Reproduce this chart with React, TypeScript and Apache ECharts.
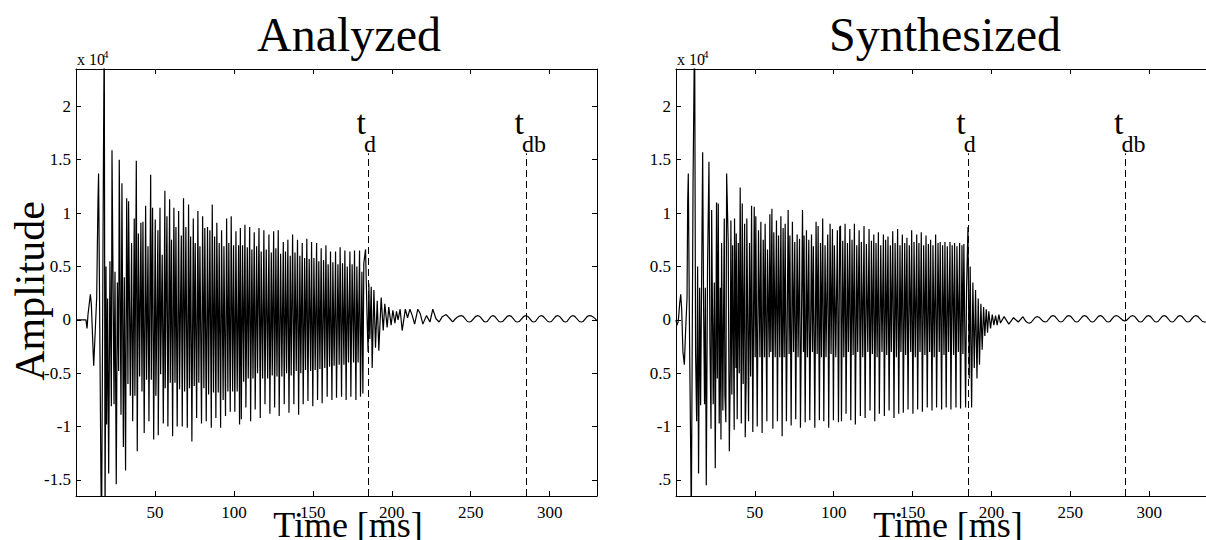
import React, { useEffect, useRef } from "react";
import * as echarts from "echarts";

type Pt = [number, number];

// ---------- axes / labels ----------
const xTicks = [50, 100, 150, 200, 250, 300];
const yTicks = [-1.5, -1, -0.5, 0, 0.5, 1, 1.5, 2];
const leftYLabels = ["-1.5", "-1", "-0.5", "0", "0.5", "1", "1.5", "2"];
const rightYLabels = [".5", "-1", "0.5", "0", "0.5", "1", "1.5", "2"];
const analyzedXRange: [number, number] = [0, 330];
const synthXRange: [number, number] = [0, 336];
const yRange: [number, number] = [-1.65, 2.35];
const panelTitles = ["Analyzed", "Synthesized"];
const markerTimes = [185, 285];
const markerSubs = ["d", "db"];
const markerTop = 1.56;

// ---------- Analyzed waveform (amplitude in units of 10^4) ----------
const analyzedOnset: Pt[] = [
  [0, 0], [6.3, 0], [7.0, -0.08], [7.6, 0.05], [9.1, 0.24], [9.7, 0.15], [11.2, -0.43], [12.2, -0.1],
  [13.1, 0.21], [13.9, 1.1], [14.3, 1.37], [15.2, -0.34], [15.8, -1.48], [16.2, -2.0], [17.3, 1.27],
  [17.9, 2.8], [18.4, -1.9], [19.0, 0.5], [19.4, -0.98], [20.0, 0.2], [20.7, -1.44], [21.5, 0.55],
  [22.4, -0.81], [22.8, 1.59], [24.1, -0.79], [24.7, 0.45], [25.5, -1.54], [26.2, 0.35], [27.0, -0.48],
  [27.4, 1.5], [28.5, -0.89], [29.1, 1.28], [30.0, -1.19], [30.6, 0.4], [31.4, -1.41], [32.1, 1.14],
  [32.9, -0.6], [33.3, 1.11], [34.4, -0.71], [35.2, 0.72], [35.9, -0.95], [36.9, 0.95], [37.3, -0.71],
  [38.2, 1.49], [38.8, -1.23], [39.5, 0.81], [40.3, -0.53], [41.1, 0.91], [41.8, -0.67], [42.4, 0.92],
  [43.2, -1.06], [44.1, 1.07], [44.7, -0.56], [45.6, 0.69], [46.2, -0.95], [47.3, 1.36], [47.7, -0.56],
  [48.5, 1.05], [49.2, -1.12], [50.2, 0.94], [50.6, -0.71], [51.9, 0.84], [52.1, -1.08], [53.2, 1.05],
  [53.6, -0.51], [54.6, 0.61], [55.3, -0.97], [56.3, 1.21], [56.5, -0.64], [57.6, 0.97], [58.2, -1.0],
  [59.3, 1.13], [59.7, -0.59], [60.5, 0.75], [61.2, -1.09], [62.0, 1.05], [62.7, -0.59], [63.3, 0.87],
  [64.1, -1.0], [65.0, 1.02], [65.6, -0.65], [66.7, 0.79], [67.3, -1.0], [68.1, 1.14], [68.8, -0.67],
  [69.6, 0.87], [70.5, -1.01], [71.3, 1.08], [71.9, -0.64], [72.6, 0.78], [73.4, -1.14], [74.3, 0.95],
  [74.9, -0.62], [75.5, 0.72], [76.4, -0.92], [77.2, 1.02], [77.8, -0.59], [78.5, 0.69], [79.5, -0.97],
  [80.2, 0.97], [81.0, -0.64], [81.6, 0.86], [82.5, -0.95], [83.3, 0.87], [84.0, -0.7], [84.8, 0.84],
  [85.7, -1.01], [86.3, 1.08], [87.1, -0.68], [87.8, 0.78], [88.6, -0.92], [89.2, 0.91], [90.1, -0.68],
  [90.7, 0.72], [91.6, -1.01], [92.2, 0.84], [93.2, -0.75], [93.7, 0.69], [94.7, -0.9], [95.4, 0.95],
  [96.2, -0.67], [96.8, 0.72], [97.7, -0.86], [98.3, 0.97], [99.2, -0.67], [99.8, 0.7], [100.6, -0.86],
  [101.3, 0.83], [102.1, -0.67], [103.0, 0.7], [103.6, -0.98],
];
const analyzedBody: Pt[] = [
  [104.1, 0.86], [104.7, -0.93], [105.5, 0.7], [106.2, -0.58], [107.0, 0.89], [107.6, -0.82], [108.5, 0.68],
  [109.1, -0.55], [110.0, 0.87], [110.6, -0.95], [111.4, 0.66], [112.1, -0.55], [112.9, 0.82], [113.5, -0.84],
  [114.4, 0.69], [115.0, -0.5], [115.9, 0.86], [116.7, -0.92], [117.3, 0.64], [118.2, -0.55], [119.0, 0.84],
  [119.7, -0.79], [120.5, 0.66], [121.4, -0.55], [122.2, 0.8], [122.8, -0.88], [123.7, 0.63], [124.3, -0.52],
  [125.2, 0.83], [125.8, -0.82], [126.6, 0.67], [127.3, -0.53], [128.1, 0.84], [128.7, -0.9], [129.6, 0.62],
  [130.4, -0.53], [131.3, 0.73], [131.9, -0.79], [132.7, 0.64], [133.4, -0.5], [134.2, 0.75], [134.9, -0.87],
  [135.7, 0.6], [136.3, -0.52], [137.2, 0.8], [138.0, -0.79], [138.7, 0.63], [139.5, -0.48], [140.3, 0.75],
  [141.0, -0.89], [141.8, 0.6], [142.4, -0.5], [143.3, 0.72], [143.9, -0.79], [144.8, 0.58], [145.4, -0.47],
  [146.2, 0.76], [146.9, -0.76], [147.7, 0.57], [148.6, -0.48], [149.2, 0.73], [150.0, -0.81], [150.7, 0.58],
  [151.5, -0.47], [152.4, 0.72], [153.0, -0.75], [153.8, 0.55], [154.5, -0.46], [155.3, 0.67], [155.9, -0.78],
  [156.8, 0.56], [157.6, -0.45], [158.3, 0.7], [159.1, -0.72], [159.7, 0.52], [160.6, -0.44], [161.2, 0.64],
  [162.1, -0.75], [162.7, 0.54], [163.5, -0.43], [164.4, 0.64], [165.0, -0.73], [165.9, 0.52], [166.7, -0.42],
  [167.3, 0.68], [168.2, -0.72], [168.8, 0.53], [169.7, -0.42], [170.3, 0.65], [171.1, -0.75], [171.8, 0.5],
  [172.6, -0.4], [173.5, 0.64], [174.1, -0.72], [174.9, 0.52], [175.8, -0.4], [176.4, 0.65], [177.3, -0.75],
  [177.9, 0.5], [178.7, -0.4], [179.6, 0.65], [180.2, -0.72], [181.1, 0.45], [181.7, -0.69], [182.3, 0.53],
];
const analyzedDecay: Pt[] = [
  [183.4, 0.66], [184.4, 0.0], [185.0, -0.3], [185.5, 0.34], [186.1, -0.18], [187.0, 0.31], [187.6, -0.45],
  [188.7, 0.28], [189.7, -0.26], [190.8, 0.18], [191.8, -0.29], [193.3, 0.21], [194.6, -0.1], [195.6, 0.15],
  [197.1, -0.07], [198.1, 0.12], [199.6, -0.05], [200.7, 0.09], [202.0, -0.03], [203.0, 0.08], [204.0, 0.0],
  [205.3, 0.1], [206.6, -0.1], [208.6, 0.1], [210.0, 0.02], [211.5, 0.1], [213.0, 0.04], [214.5, -0.04],
  [216.5, 0.1], [218.0, 0.06], [219.7, -0.04], [222.0, 0.04], [224.2, -0.02], [226.0, 0.1], [228.0, 0.01],
  [230.0, -0.02], [232.0, 0.03], [234.5, 0.05], [238.7, -0.02],
];
const analyzedTail: Pt[] = [
  [238.7, -0.02], [244, 0.04], [249, -0.02], [254.5, 0.04], [259.5, -0.02], [264, 0.04], [269, -0.02],
  [274.5, 0.04], [279.5, -0.02], [285, 0.04], [290, -0.02], [294.6, 0.04], [300, -0.02], [305.1, 0.04],
  [310, -0.02], [314.6, 0.04], [320, -0.02], [325.2, 0.04], [330, -0.01],
];

// ---------- Synthesized waveform (amplitude in units of 10^4) ----------
const synthOnset: Pt[] = [
  [0, 0], [0.6, -0.05], [1.3, -0.02], [1.7, 0.03], [2.3, 0.15], [3.0, 0.24], [3.6, 0.1], [4.4, -0.3],
  [5.3, -0.42], [6.1, -0.1], [7.0, 0.21], [7.4, 1.1], [7.8, 1.37], [8.6, -0.2], [9.3, -1.2], [9.7, -1.9],
  [10.8, 1.27], [11.8, 2.8], [12.4, -0.3], [13.1, -0.95], [13.7, 0.5], [14.3, -1.44], [15.0, 0.3],
  [15.6, -0.8], [16.9, 1.57], [17.5, 0.1], [18.1, -0.79], [18.6, 0.3], [19.2, -1.55], [20.0, 0.5],
  [20.9, 1.48], [21.5, -0.2], [22.2, -1.02], [22.6, 1.03], [23.6, -0.79], [24.3, 0.35], [24.9, -1.39],
  [25.7, 1.1], [26.2, -0.55], [26.8, 1.09], [27.4, -0.97], [28.1, 0.3], [28.5, -1.12], [28.9, 0.72],
  [29.7, -0.85], [30.6, 0.95], [31.0, -0.7], [31.6, -0.96], [32.1, 1.37], [33.1, 0.72], [33.8, -1.23],
  [34.4, -0.48], [34.8, 0.93], [35.4, -0.7], [35.9, 0.7], [36.9, -1.03], [37.1, 0.95], [38.0, -0.45],
  [38.2, 0.81], [38.8, -0.93], [39.5, 0.72], [40.1, -0.5], [40.7, 1.24], [41.4, -0.97], [42.0, 1.09],
  [42.6, -0.6], [43.5, 0.9], [43.9, -1.1], [44.5, -0.55], [44.9, 0.95], [46.0, -0.95], [46.6, 0.72],
  [47.3, -0.53], [47.9, 1.07], [48.7, -1.05], [49.6, 1.06], [50.2, -0.35], [50.6, 0.97], [51.5, -1.0],
  [52.3, 0.84], [53.2, -0.35], [53.8, 0.92], [54.6, -1.06], [55.3, 0.75], [56.1, -0.35], [56.5, 0.9],
  [57.6, -0.95], [58.0, 0.66], [59.1, -0.35], [59.5, 0.99], [60.1, -0.3], [60.8, 1.04], [61.4, -1.02],
  [62.0, 0.82], [62.9, -0.35], [63.7, 0.93], [64.3, -0.95], [65.0, 0.79], [65.8, -0.35], [66.5, 0.97],
  [67.3, -1.09], [67.9, 0.86], [68.6, -0.35], [69.2, 0.9], [70.0, -0.95], [71.1, 1.03], [71.7, -0.32],
  [72.2, 0.79], [73.0, -0.99], [73.8, 0.92], [74.5, -0.3], [75.3, 0.73], [75.9, -0.93], [76.8, 0.8],
  [77.4, -0.35], [78.3, 0.76], [78.9, -1.01], [80.2, 1.03], [80.8, -0.3], [81.2, 0.79], [81.9, -0.96],
  [82.7, 0.84], [83.3, -0.35], [84.2, 0.75], [84.8, -0.94], [85.9, 0.8], [86.5, -0.3], [87.1, 0.69],
  [88.0, -1.01], [88.8, 0.92], [89.5, -0.32], [90.1, 0.88], [90.9, -0.94], [91.6, 0.72], [92.2, -0.35],
  [93.0, 0.95], [93.7, -0.95], [94.5, 0.7], [95.1, -0.35], [96.2, 0.8], [96.8, -1.01], [97.7, 0.9],
  [98.3, -0.32], [99.2, 0.85], [99.8, -0.94], [100.4, 0.7], [101.3, -0.35], [102.3, 0.84], [103.0, -0.96],
  [103.8, 0.87],
];
const synthBody: Pt[] = [
  [104.3, 0.88], [104.9, -0.95], [105.7, 0.74], [106.4, -0.35], [107.2, 0.9], [107.8, -0.88], [108.7, 0.72],
  [109.3, -0.3], [110.2, 0.85], [110.8, -0.94], [111.6, 0.75], [112.3, -0.33], [113.1, 0.9], [113.7, -0.98],
  [114.6, 0.7], [115.2, -0.3], [116.1, 0.84], [116.9, -0.9], [117.5, 0.73], [118.4, -0.35], [119.2, 0.88],
  [119.9, -0.92], [120.7, 0.71], [121.6, -0.3], [122.4, 0.85], [123.0, -0.85], [123.9, 0.74], [124.5, -0.32],
  [125.4, 0.8], [126.0, -0.95], [126.8, 0.72], [127.5, -0.35], [128.3, 0.82], [128.9, -0.88], [129.8, 0.7],
  [130.6, -0.3], [131.5, 0.8], [132.1, -0.9], [132.9, 0.75], [133.6, -0.33], [134.4, 0.78], [135.1, -0.85],
  [135.9, 0.7], [136.5, -0.3], [137.4, 0.83], [138.2, -0.92], [138.9, 0.72], [139.7, -0.35], [140.5, 0.85],
  [141.2, -0.88], [142.0, 0.7], [142.6, -0.3], [143.5, 0.8], [144.1, -0.87], [145.0, 0.72], [145.6, -0.33],
  [146.4, 0.77], [147.1, -0.84], [147.9, 0.7], [148.8, -0.3], [149.4, 0.84], [150.2, -0.88], [150.9, 0.73],
  [151.7, -0.35], [152.6, 0.8], [153.2, -0.84], [154.0, 0.72], [154.7, -0.3], [155.5, 0.82], [156.2, -0.86],
  [157.0, 0.7], [157.8, -0.33], [158.5, 0.79], [159.3, -0.82], [160.0, 0.71], [160.8, -0.3], [161.4, 0.75],
  [162.3, -0.85], [162.9, 0.7], [163.7, -0.35], [164.6, 0.8], [165.2, -0.82], [166.1, 0.72], [166.9, -0.3],
  [167.5, 0.73], [168.4, -0.84], [169.0, 0.7], [169.9, -0.33], [170.5, 0.73], [171.3, -0.82], [172.0, 0.69],
  [172.8, -0.3], [173.7, 0.73], [174.3, -0.84], [175.1, 0.7], [176.0, -0.33], [176.6, 0.72], [177.5, -0.82],
  [178.1, 0.69], [179.0, -0.3], [179.8, 0.72], [180.4, -0.83], [181.3, 0.7], [181.9, -0.32], [182.5, 0.71],
  [183.6, -0.82], [184.2, 0.3], [185.1, 0.87],
];
const synthDecay: Pt[] = [
  [185.9, -0.55], [186.5, 0.5], [187.4, -0.82], [188.2, 0.35], [189.1, -0.45], [189.9, 0.28], [190.8, -0.55],
  [191.6, 0.2], [192.4, -0.42], [193.3, 0.15], [194.1, -0.28], [195.0, 0.12], [195.8, -0.15], [196.7, 0.1],
  [197.5, -0.12], [198.3, 0.08], [199.4, -0.08], [200.5, 0.05], [201.5, -0.05], [202.6, 0.04], [203.6, -0.05],
  [204.7, 0.05], [205.7, -0.03], [208, 0.03], [211, -0.04], [214, 0.02], [217, -0.02], [220, 0.03],
];
const synthTail: Pt[] = [
  [220, 0.03], [224, -0.03], [229, 0.03], [234, -0.02], [239, 0.04], [244, -0.02], [249, 0.04], [254, -0.02],
  [259, 0.04], [264, -0.02], [269, 0.04], [274, -0.02], [279, 0.04], [284.5, -0.01], [289.5, 0.04],
  [294.5, -0.02], [299.5, 0.04], [304.5, -0.02], [309.5, 0.04], [314.5, -0.02], [319.5, 0.04], [324.5, -0.02],
  [329.5, 0.04], [335, -0.02], [341, 0.03],
];

const FONT = "'Liberation Serif', 'Times New Roman', serif";

function labelFor(labels: string[]) {
  return (v: number) => {
    const i = yTicks.findIndex((t) => Math.abs(t - v) < 1e-6);
    return i >= 0 ? labels[i] : "";
  };
}

export default function App() {
  const ref = useRef<HTMLDivElement>(null);

  useEffect(() => {
    if (!ref.current) return;
    const chart = echarts.init(ref.current, undefined, { renderer: "svg" });

    const grids = [
      { left: 76, top: 69, width: 521, height: 427 },
      { left: 676, top: 69, width: 530, height: 427 },
    ];
    const xRanges = [analyzedXRange, synthXRange];
    const showRightFrame = [true, false];
    const titleCenters = [349, 945];
    const xLabelCenters = [348, 948];

    const xAxes: any[] = [];
    const yAxes: any[] = [];
    grids.forEach((_, gi) => {
      const axisLine = { show: true, onZero: false, lineStyle: { color: "#000", width: 1 } };
      const xr = xRanges[gi];
      xAxes.push({
        gridIndex: gi, type: "value", position: "bottom", min: xr[0], max: xr[1],
        axisLine, splitLine: { show: false },
        axisTick: { show: true, inside: true, length: 5, customValues: xTicks, lineStyle: { color: "#000" } },
        axisLabel: { show: true, customValues: xTicks, color: "#000", fontFamily: FONT, fontSize: 17, margin: 8 },
      });
      xAxes.push({
        gridIndex: gi, type: "value", position: "top", min: xr[0], max: xr[1],
        axisLine, splitLine: { show: false },
        axisTick: { show: true, inside: true, length: 5, customValues: xTicks, lineStyle: { color: "#000" } },
        axisLabel: { show: false },
      });
      yAxes.push({
        gridIndex: gi, type: "value", position: "left", min: yRange[0], max: yRange[1],
        axisLine, splitLine: { show: false },
        axisTick: { show: true, inside: true, length: 5, customValues: yTicks, lineStyle: { color: "#000" } },
        axisLabel: {
          show: true, customValues: yTicks, color: "#000", fontFamily: FONT, fontSize: 17, margin: 5,
          formatter: labelFor(gi === 0 ? leftYLabels : rightYLabels),
        },
      });
      yAxes.push({
        gridIndex: gi, type: "value", position: "right", min: yRange[0], max: yRange[1],
        axisLine: { ...axisLine, show: showRightFrame[gi] }, splitLine: { show: false },
        axisTick: { show: showRightFrame[gi], inside: true, length: 5, customValues: yTicks, lineStyle: { color: "#000" } },
        axisLabel: { show: false },
      });
    });

    const mainData = [
      [...analyzedOnset, ...analyzedBody, ...analyzedDecay],
      [...synthOnset, ...synthBody, ...synthDecay],
    ];
    const tailData = [analyzedTail, synthTail];

    const series: any[] = [];
    [0, 1].forEach((gi) => {
      series.push({
        type: "line", xAxisIndex: gi * 2, yAxisIndex: gi * 2, data: mainData[gi],
        showSymbol: false, symbol: "none", clip: true,
        lineStyle: { color: "#000", width: 1.2 },
        markLine: {
          silent: true, symbol: "none", animation: false,
          label: { show: false },
          lineStyle: { color: "#000", width: 1, type: [7, 4] },
          data: markerTimes.map((t) => [{ coord: [t, yRange[0]] }, { coord: [t, markerTop] }]),
        },
      });
      series.push({
        type: "line", xAxisIndex: gi * 2, yAxisIndex: gi * 2, data: tailData[gi],
        showSymbol: false, symbol: "none", smooth: 0.5, clip: true,
        lineStyle: { color: "#000", width: 1.2 },
      });
    });

    chart.setOption({
      animation: false,
      backgroundColor: "#fff",
      grid: grids.map((g) => ({ ...g, show: false })),
      xAxis: xAxes,
      yAxis: yAxes,
      series,
    });

    const graphics: any[] = [];
    grids.forEach((g, gi) => {
      graphics.push({
        type: "text", x: titleCenters[gi], y: 58,
        style: { text: panelTitles[gi], font: `48px ${FONT}`, fill: "#000", textAlign: "center", textVerticalAlign: "bottom" },
      });
      graphics.push({
        type: "text", x: xLabelCenters[gi], y: 543,
        style: { text: "Time [ms]", font: `36px ${FONT}`, fill: "#000", textAlign: "center", textVerticalAlign: "bottom" },
      });
      graphics.push({
        type: "text", x: g.left + 1, y: 67,
        style: { text: "x 10", font: `16px ${FONT}`, fill: "#000", textAlign: "left", textVerticalAlign: "bottom" },
      });
      graphics.push({
        type: "text", x: g.left + 27, y: 59,
        style: { text: "4", font: `11px ${FONT}`, fill: "#000", textAlign: "left", textVerticalAlign: "bottom" },
      });
      markerTimes.forEach((t, mi) => {
        const p = chart.convertToPixel({ gridIndex: gi }, [t, markerTop]) as number[];
        graphics.push({
          type: "text", x: p[0] - 2, y: p[1] - 14,
          style: { text: "t", font: `34px ${FONT}`, fill: "#000", textAlign: "right", textVerticalAlign: "bottom" },
        });
        graphics.push({
          type: "text", x: p[0] - 4, y: p[1] + 3,
          style: { text: markerSubs[mi], font: `24px ${FONT}`, fill: "#000", textAlign: "left", textVerticalAlign: "bottom" },
        });
      });
    });
    graphics.push({
      type: "text", x: 30, y: 291, rotation: Math.PI / 2,
      style: { text: "Amplitude", font: `42px ${FONT}`, fill: "#000", textAlign: "center", textVerticalAlign: "middle" },
    });

    chart.setOption({ graphic: graphics });

    return () => chart.dispose();
  }, []);

  return (
    <div
      ref={ref}
      style={{ position: "fixed", left: 0, top: 0, width: 1206, height: 540, background: "#fff" }}
    />
  );
}
